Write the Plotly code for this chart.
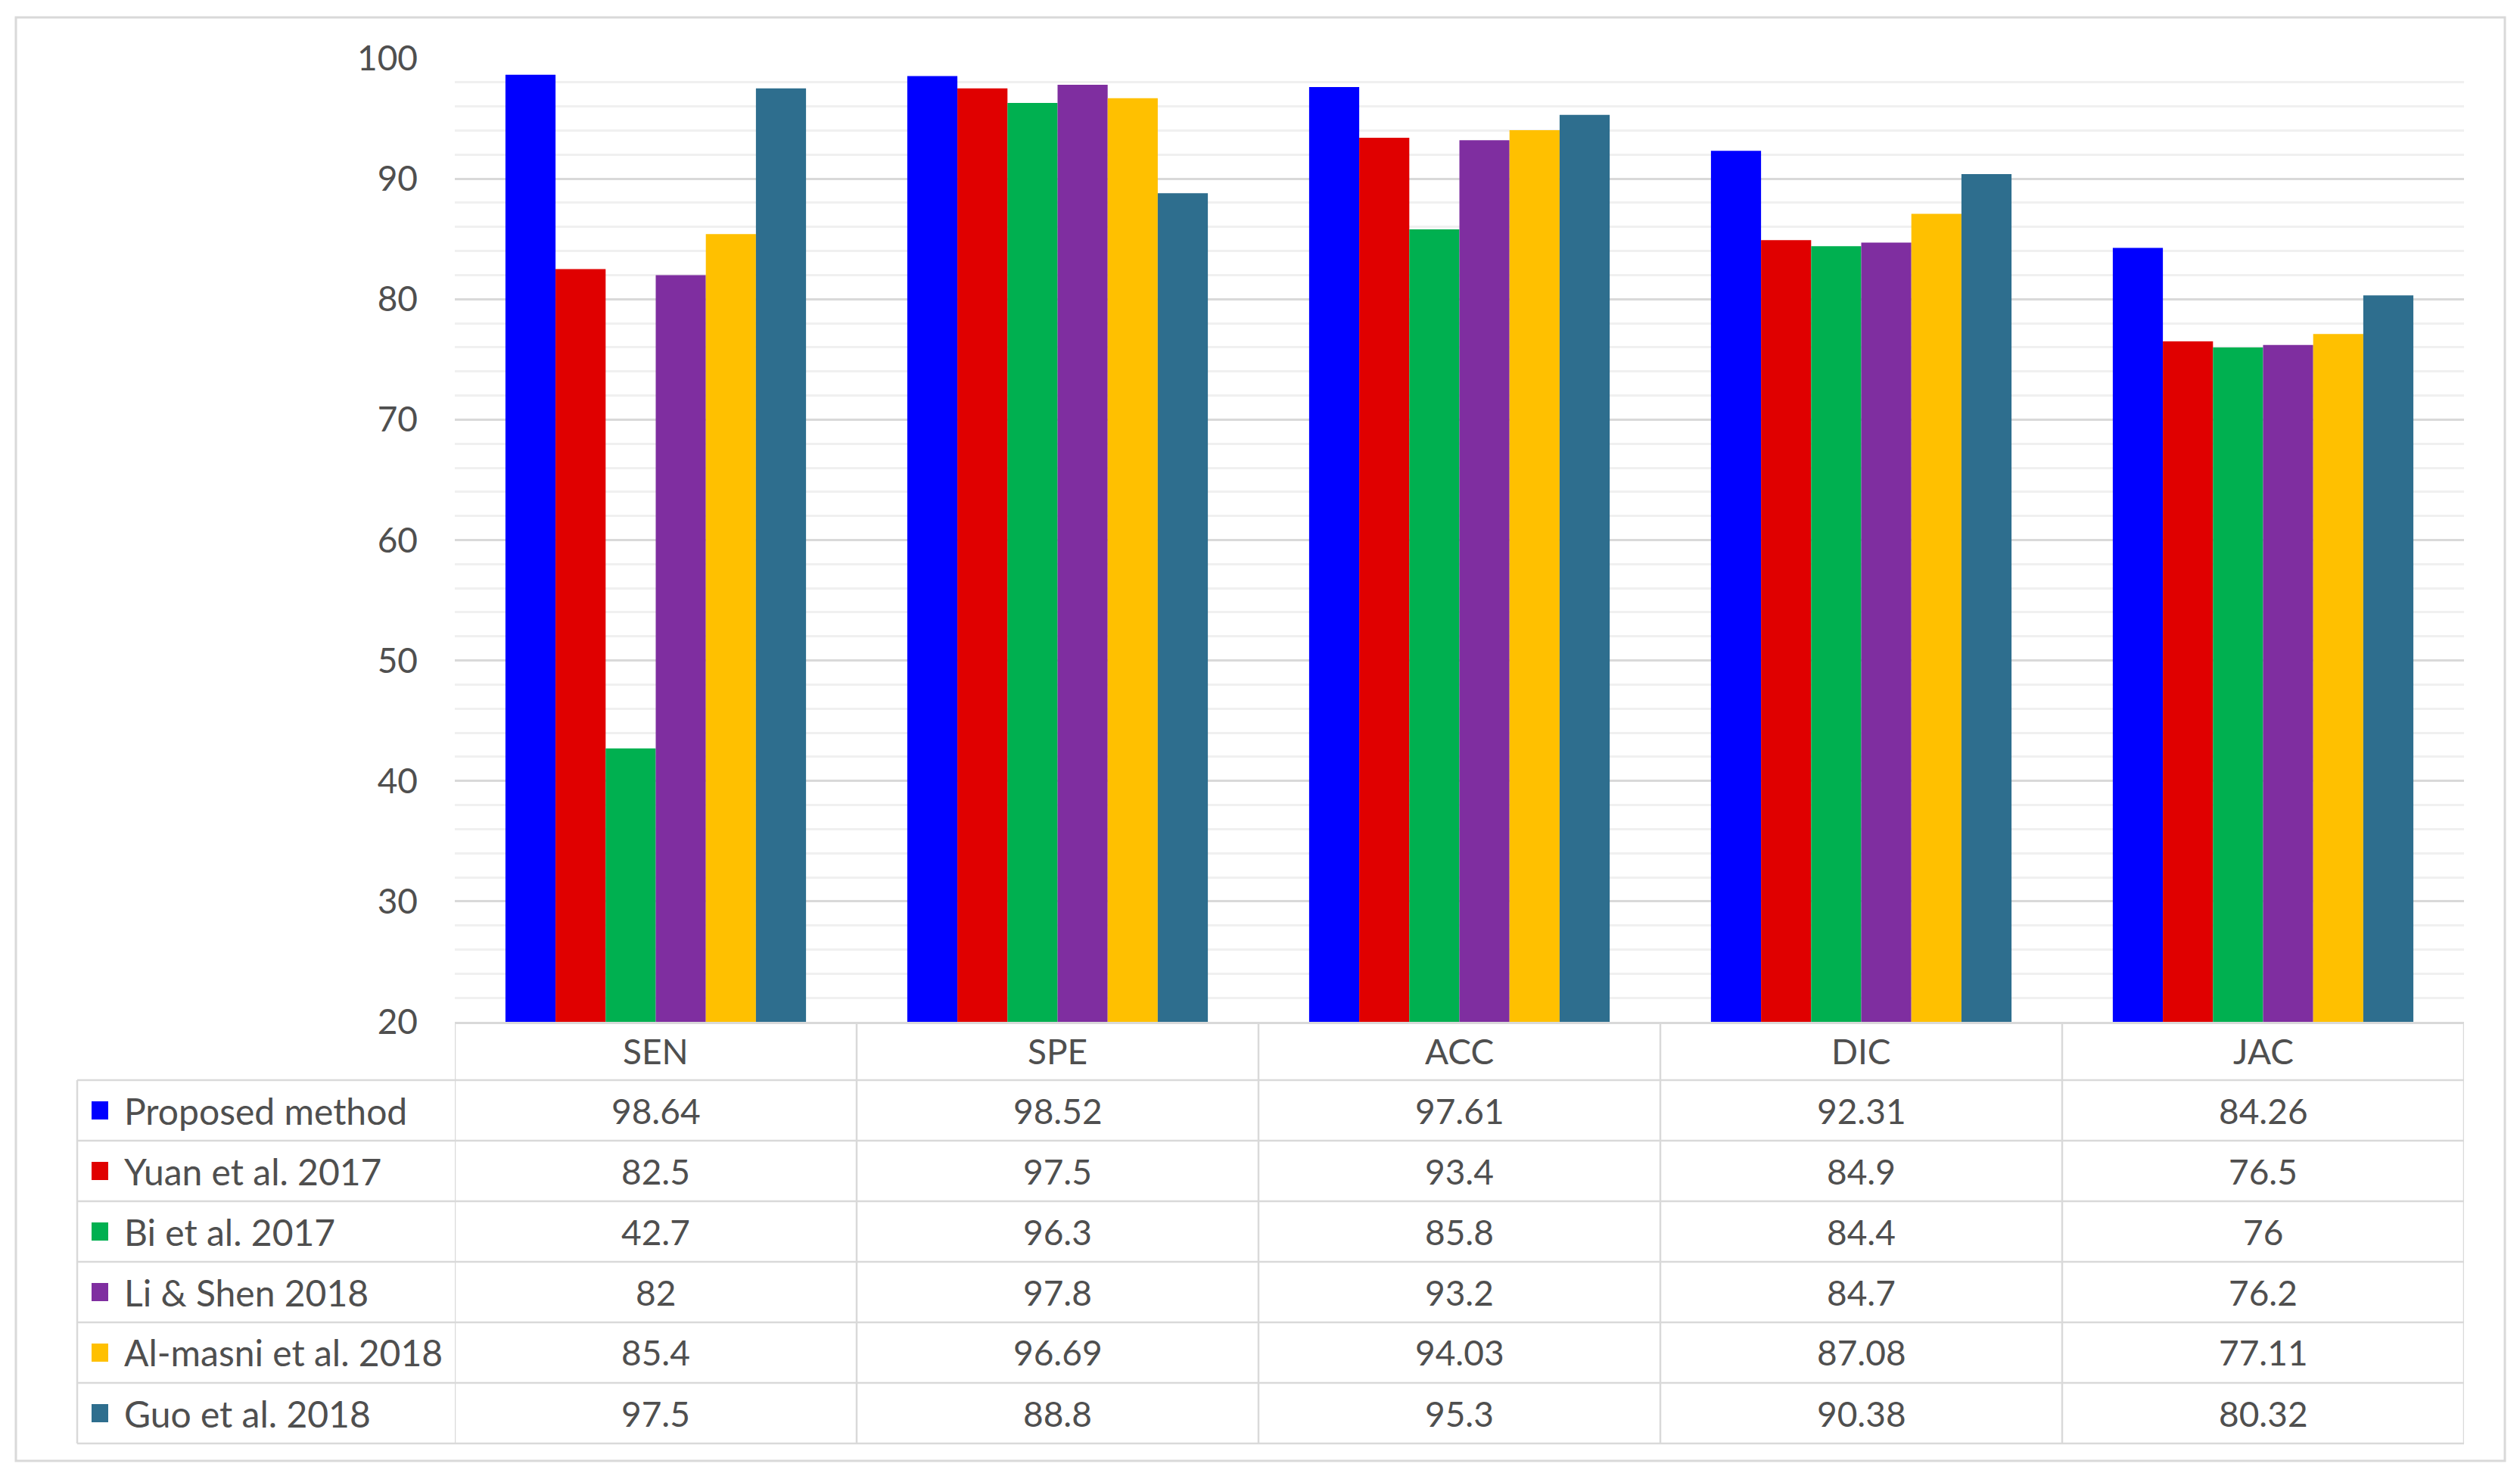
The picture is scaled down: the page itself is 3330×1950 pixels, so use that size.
import plotly.graph_objects as go

# ---------------- data ----------------
categories = ["SEN", "SPE", "ACC", "DIC", "JAC"]
methods = ["Proposed method", "Yuan et al. 2017", "Bi et al. 2017",
           "Li & Shen 2018", "Al-masni et al. 2018", "Guo et al. 2018"]
proposed = [98.64, 98.52, 97.61, 92.31, 84.26]
yuan = [82.5, 97.5, 93.4, 84.9, 76.5]
bi = [42.7, 96.3, 85.8, 84.4, 76]
li_shen = [82, 97.8, 93.2, 84.7, 76.2]
al_masni = [85.4, 96.69, 94.03, 87.08, 77.11]
guo = [97.5, 88.8, 95.3, 90.38, 80.32]
y_ticks = [20, 30, 40, 50, 60, 70, 80, 90, 100]

series = [proposed, yuan, bi, li_shen, al_masni, guo]
colors = ["#0000FF", "#E00000", "#00B050", "#7F2EA0", "#FFC000", "#2E6E8E"]

# ---------------- layout geometry (pixels) ----------------
W, H = 3330, 1950
L, R, T, B = 601, 3256, 77, 1350
FONT = "Lato, Carlito, 'Open Sans', sans-serif"
TXT = "#4F4F4F"
GRID = "#D9D9D9"
FS = 46
FS_LABEL = 48

def px(x):
    return (x - L) / (R - L)

def py(y):
    return (B - y) / (B - T)

fig = go.Figure()
for name, vals, col in zip(methods, series, colors):
    fig.add_trace(go.Bar(name=name, x=categories, y=vals,
                         marker=dict(color=col, line=dict(width=0))))

shapes = []
annotations = []

# table geometry
header_bottom = 1427
row_h = 80
table_left = 102
n_rows = len(methods)
table_bottom = header_bottom + n_rows * row_h

# vertical lines at category boundaries (data coords on x)
for i in range(len(categories) + 1):
    shapes.append(dict(type="line", xref="x", yref="paper",
                       x0=i - 0.5, x1=i - 0.5, y0=py(B), y1=py(table_bottom),
                       line=dict(color=GRID, width=2.5)))
# left edge of legend column
shapes.append(dict(type="line", xref="paper", yref="paper",
                   x0=px(table_left), x1=px(table_left),
                   y0=py(header_bottom), y1=py(table_bottom),
                   line=dict(color=GRID, width=2.5)))
# horizontal row lines
for r in range(n_rows + 1):
    yy = header_bottom + r * row_h
    shapes.append(dict(type="line", xref="paper", yref="paper",
                       x0=px(table_left), x1=px(R), y0=py(yy), y1=py(yy),
                       line=dict(color=GRID, width=2.5)))

# header texts
for c in categories:
    annotations.append(dict(xref="x", yref="paper", x=c,
                            y=py((B + header_bottom) / 2), text=c,
                            showarrow=False, xanchor="center", yanchor="middle",
                            font=dict(family=FONT, size=FS, color=TXT)))

# rows
for r, (name, vals, col) in enumerate(zip(methods, series, colors)):
    yc = header_bottom + r * row_h + row_h / 2
    shapes.append(dict(type="rect", xref="paper", yref="paper",
                       x0=px(121), x1=px(143), y0=py(yc - 12), y1=py(yc + 12),
                       fillcolor=col, line=dict(width=0)))
    annotations.append(dict(xref="paper", yref="paper", x=px(162), y=py(yc),
                            text=name, showarrow=False, xanchor="left",
                            yanchor="middle",
                            font=dict(family=FONT, size=FS_LABEL, color=TXT)))
    for c, v in zip(categories, vals):
        annotations.append(dict(xref="x", yref="paper", x=c, y=py(yc),
                                text=f"{v:g}", showarrow=False,
                                xanchor="center", yanchor="middle",
                                font=dict(family=FONT, size=FS, color=TXT)))

# outer border
shapes.append(dict(type="rect", xref="paper", yref="paper",
                   x0=px(21), x1=px(3310), y0=py(23), y1=py(1930),
                   line=dict(color=GRID, width=3), fillcolor="rgba(0,0,0,0)",
                   layer="below"))

fig.update_layout(
    width=W, height=H,
    margin=dict(l=L, r=W - R, t=T, b=H - B),
    paper_bgcolor="white", plot_bgcolor="white",
    barmode="group", bargap=0.252, bargroupgap=0,
    showlegend=False,
    shapes=shapes, annotations=annotations,
    font=dict(family=FONT, size=FS, color=TXT),
    xaxis=dict(showticklabels=False, showgrid=False, zeroline=False,
               showline=True, linecolor=GRID, linewidth=3, ticks="",
               range=[-0.5, len(categories) - 0.5]),
    yaxis=dict(range=[20, 100], tickvals=y_ticks,
               ticktext=[str(t) for t in y_ticks],
               tickfont=dict(family=FONT, size=FS, color=TXT),
               showgrid=True, gridcolor=GRID, gridwidth=3,
               minor=dict(dtick=2, showgrid=True, gridcolor="#F0F0F0",
                          gridwidth=2.5),
               zeroline=False, showline=False, ticks="",
               ticklabelstandoff=48),
)

fig.write_html("out.html",
               config={"displayModeBar": False},
               post_script="document.body.style.margin='0';document.body.style.overflow='hidden';")
